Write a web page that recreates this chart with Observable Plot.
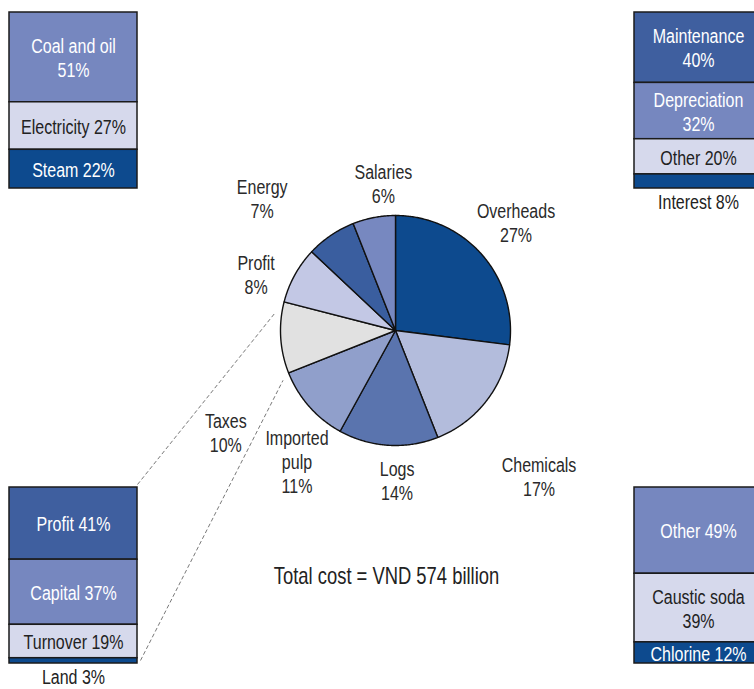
<!DOCTYPE html>
<html><head><meta charset="utf-8">
<script src="https://cdn.jsdelivr.net/npm/d3@7"></script>
<script src="https://cdn.jsdelivr.net/npm/@observablehq/plot@0.6"></script>
<style>
html,body{margin:0;padding:0;background:#fff;overflow:hidden;}
#chart svg{display:block;}
</style></head><body><div id="chart"></div>
<script>
// ---------- data ----------
const pieCategories = ["Overheads","Chemicals","Logs","Imported pulp","Taxes","Profit","Energy","Salaries"];
const pieShares     = [27,17,14,11,10,8,7,6];
const pieColors     = ["#0d4a8e","#b3bcdc","#5a74ae","#909fcb","#e1e1e1","#c3c8e5","#3a5e9f","#7788c0"];
const totalCost = 574; // VND billion

const energyParts   = ["Coal and oil","Electricity","Steam"];
const energyShares  = [51,27,22];
const energyColors  = ["#7687bf","#d6d9ec","#0d4a8e"];

const overheadParts  = ["Maintenance","Depreciation","Other","Interest"];
const overheadShares = [40,32,20,8];
const overheadColors = ["#3f5f9f","#7687bf","#d6d9ec","#0d4a8e"];

const taxParts  = ["Profit","Capital","Turnover","Land"];
const taxShares = [41,37,19,3];
const taxColors = ["#3f5f9f","#7687bf","#d6d9ec","#0d4a8e"];

const chemParts  = ["Other","Caustic soda","Chlorine"];
const chemShares = [49,39,12];
const chemColors = ["#7687bf","#d6d9ec","#0d4a8e"];

// ---------- layout ----------
const W = 754, H = 689;
const FONT = "'Liberation Sans','Arial',sans-serif";
const NARROW = 0.8; // horizontal squeeze to mimic a condensed face
const pie = {cx: 395, cy: 330, r: 115, labelR: 150};
// label nudges (annotation placement) in same order as pieCategories
const pieLabelNudge = [[8,-9],[25,54],[11,0],[14,32],[-20,92],[-8,16],[-49,-8],[16,0]];
const pieLabelBreak = {"Imported pulp": "Imported\npulp"};
const BOX_W = 128, BOX_H = 176;
const boxes = [
  {parts: energyParts,   shares: energyShares,   colors: energyColors,   x: 9,   y: 12,  wrap: [true,false,false],       outside: []},
  {parts: overheadParts, shares: overheadShares, colors: overheadColors, x: 634, y: 12,  wrap: [true,true,false,false],  outside: ["Interest"]},
  {parts: taxParts,      shares: taxShares,      colors: taxColors,      x: 9,   y: 487, wrap: [false,false,false,false], outside: ["Land"]},
  {parts: chemParts,     shares: chemShares,     colors: chemColors,     x: 634, y: 487, wrap: [false,true,false],       outside: []}
];

// ---------- derived geometry ----------
const arcs = d3.pie().sort(null).value(d => d)(pieShares);
const polar = (a, r) => ({x: pie.cx + r * Math.sin(a), y: pie.cy - r * Math.cos(a)});

const slicePts = [];
arcs.forEach((a, i) => {
  slicePts.push({key: i, fill: pieColors[i], ...polar(0, 0)});
  const n = Math.max(2, Math.ceil((a.endAngle - a.startAngle) / 0.01));
  for (let k = 0; k <= n; k++) {
    const t = a.startAngle + (a.endAngle - a.startAngle) * k / n;
    slicePts.push({key: i, fill: pieColors[i], ...polar(t, pie.r)});
  }
});

const pieLabels = arcs.map((a, i) => {
  const p = polar((a.startAngle + a.endAngle) / 2, pie.labelR);
  const name = pieLabelBreak[pieCategories[i]] || pieCategories[i];
  return {x: p.x + pieLabelNudge[i][0], y: p.y + pieLabelNudge[i][1], text: `${name}\n${pieShares[i]}%`};
});

const segs = [], segLabels = [], outLabels = [];
boxes.forEach(b => {
  let cum = 0;
  const total = d3.sum(b.shares);
  b.parts.forEach((p, i) => {
    const y1 = b.y + BOX_H * cum / total;
    cum += b.shares[i];
    const y2 = b.y + BOX_H * cum / total;
    segs.push({x1: b.x, x2: b.x + BOX_W, y1, y2, fill: b.colors[i]});
    const txt = b.wrap[i] ? `${p}\n${b.shares[i]}%` : `${p} ${b.shares[i]}%`;
    if (b.outside.includes(p)) {
      outLabels.push({x: b.x + BOX_W / 2, y: b.y + BOX_H + 14, text: txt});
    } else {
      const light = d3.lab(b.colors[i]).l > 70;
      segLabels.push({x: b.x + BOX_W / 2, y: (y1 + y2) / 2, text: txt, color: light ? "#222" : "#fff"});
    }
  });
});

// connectors from the Taxes slice to the tax breakdown box
const taxArc = arcs[pieCategories.indexOf("Taxes")];
const taxBox = boxes[2];
const upperEnd = polar(taxArc.endAngle - 0.11, pie.r + 7);
const lowerEnd = polar(taxArc.startAngle - 0.04, pie.r + 8);
const connectors = [
  {x1: taxBox.x + BOX_W, y1: taxBox.y - 3, x2: upperEnd.x, y2: upperEnd.y},
  {x1: taxBox.x + BOX_W + 3, y1: taxBox.y + BOX_H - 3, x2: lowerEnd.x, y2: lowerEnd.y}
];

const chart = Plot.plot({
  width: W, height: H, margin: 0,
  x: {domain: [0, W], range: [0, W], axis: null},
  y: {domain: [0, H], range: [0, H], axis: null},
  style: {fontFamily: FONT, background: "white"},
  marks: [
    Plot.link(connectors, {x1: "x1", y1: "y1", x2: "x2", y2: "y2", stroke: "#555", strokeWidth: 0.8, strokeDasharray: "4,2.5"}),
    Plot.rect(segs, {x1: "x1", x2: "x2", y1: "y1", y2: "y2", fill: "fill", stroke: "#1b1b1b", strokeWidth: 1.5}),
    Plot.text(segLabels, {x: "x", y: "y", text: "text", fill: "color", fontSize: 20, lineHeight: 1.2, fontFamily: FONT}),
    Plot.text(outLabels, {x: "x", y: "y", text: "text", fill: "#222", fontSize: 20, fontFamily: FONT}),
    Plot.line(slicePts, {x: "x", y: "y", z: "key", fill: "fill", stroke: "#111", strokeWidth: 1.4, strokeLinejoin: "round", curve: "linear-closed"}),
    Plot.text(pieLabels, {x: "x", y: "y", text: "text", fill: "#2a2a2a", fontSize: 20, lineHeight: 1.2, fontFamily: FONT}),
    Plot.text([`Total cost = VND ${totalCost} billion`], {x: pie.cx - 9, y: pie.cy + 246, text: d => d, fill: "#222", fontSize: 23, fontFamily: FONT})
  ]
});
// squeeze every label horizontally about its own anchor
chart.querySelectorAll("text").forEach(t => {
  const tr = t.getAttribute("transform") || "";
  t.setAttribute("transform", `${tr} scale(${NARROW},1)`);
});
document.getElementById("chart").append(chart);
</script>
</body></html>
